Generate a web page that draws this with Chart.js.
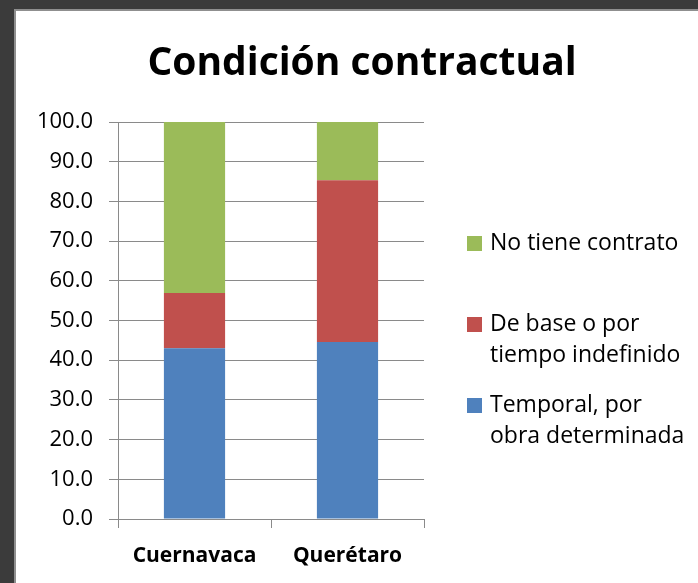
<!DOCTYPE html>
<html>
<head>
<meta charset="utf-8">
<script src="https://cdn.jsdelivr.net/npm/chart.js@4/dist/chart.umd.min.js"></script>
<style>
  html, body { margin: 0; padding: 0; background: #3b3b3b; }
  canvas { display: block; }
</style>
</head>
<body>
<canvas id="contratoChart" width="698" height="583"></canvas>
<script>
// Datos del gráfico
const titulo = 'Condición contractual';
const ciudades = ['Cuernavaca', 'Querétaro'];
const temporal = [43.0, 44.6];
const deBase = [13.9, 40.7];
const sinContrato = [43.1, 14.7];
const etiquetasSerie = [
    ['Temporal, por', 'obra determinada'],
    ['De base o por', 'tiempo indefinido'],
    ['No tiene contrato']
];
const coloresSerie = ['#4F81BD', '#C0504D', '#9BBB59'];
const ticksY = [0, 10, 20, 30, 40, 50, 60, 70, 80, 90, 100];

const fuente = "'Open Sans', 'Liberation Sans', sans-serif";

// Marco oscuro y panel blanco
const marcoPlugin = {
    id: 'marco',
    beforeDraw(chart) {
        const ctx = chart.ctx;
        ctx.save();
        ctx.fillStyle = '#3b3b3b';
        ctx.fillRect(0, 0, chart.width, chart.height);
        ctx.fillStyle = '#8f8f8f';
        ctx.fillRect(14, 9, chart.width - 14, chart.height - 9);
        ctx.fillStyle = '#ffffff';
        ctx.fillRect(16, 11, chart.width - 16, chart.height - 11);
        ctx.restore();
    }
};

// Título centrado como en el original
const tituloPlugin = {
    id: 'tituloPropio',
    afterDraw(chart) {
        const ctx = chart.ctx;
        ctx.save();
        ctx.font = `bold 39px ${fuente}`;
        ctx.fillStyle = '#000';
        ctx.textAlign = 'center';
        ctx.textBaseline = 'alphabetic';
        ctx.fillText(titulo, 362, 75);
        ctx.restore();
    }
};

// Leyenda a la derecha (orden invertido, textos en varias líneas)
const leyendaPlugin = {
    id: 'leyendaPropia',
    afterDraw(chart) {
        const ctx = chart.ctx;
        const sets = chart.data.datasets;
        const filas = [243, 324, 405];
        ctx.save();
        ctx.font = `23px ${fuente}`;
        ctx.textBaseline = 'middle';
        ctx.textAlign = 'left';
        for (let i = sets.length - 1, f = 0; i >= 0; i--, f++) {
            const y = filas[f];
            ctx.fillStyle = sets[i].backgroundColor;
            ctx.fillRect(467, y - 7, 15, 15);
            ctx.fillStyle = '#000';
            sets[i].label.forEach((linea, k) => ctx.fillText(linea, 490, y + k * 31));
        }
        ctx.restore();
    }
};

const datasets = [temporal, deBase, sinContrato].map((valores, i) => ({
    label: etiquetasSerie[i],
    data: valores,
    backgroundColor: coloresSerie[i],
    borderWidth: 0,
    categoryPercentage: 1.0,
    barPercentage: 0.4
}));

new Chart(document.getElementById('contratoChart'), {
    type: 'bar',
    data: { labels: ciudades, datasets: datasets },
    options: {
        responsive: false,
        animation: false,
        devicePixelRatio: 1,
        layout: { padding: { top: 122, left: 0, right: 274, bottom: 0 } },
        plugins: {
            legend: { display: false },
            title: { display: false },
            tooltip: { enabled: false }
        },
        scales: {
            x: {
                stacked: true,
                grid: {
                    drawOnChartArea: false,
                    drawTicks: true,
                    tickLength: 9,
                    color: '#8a8a8a'
                },
                border: { color: '#8a8a8a' },
                ticks: {
                    color: '#000',
                    padding: 15,
                    font: { family: fuente, size: 21, weight: 'bold' }
                },
                afterFit(scale) { scale.height = 64; }
            },
            y: {
                stacked: true,
                min: 0,
                max: 100,
                afterBuildTicks(scale) { scale.ticks = ticksY.map(v => ({ value: v })); },
                grid: {
                    color: '#8a8a8a',
                    tickLength: 9
                },
                border: { color: '#8a8a8a' },
                ticks: {
                    color: '#000',
                    padding: 16,
                    font: { family: fuente, size: 22 },
                    callback: v => v.toFixed(1)
                },
                afterFit(scale) { scale.width = 118; }
            }
        }
    },
    plugins: [marcoPlugin, tituloPlugin, leyendaPlugin]
});
</script>
</body>
</html>
